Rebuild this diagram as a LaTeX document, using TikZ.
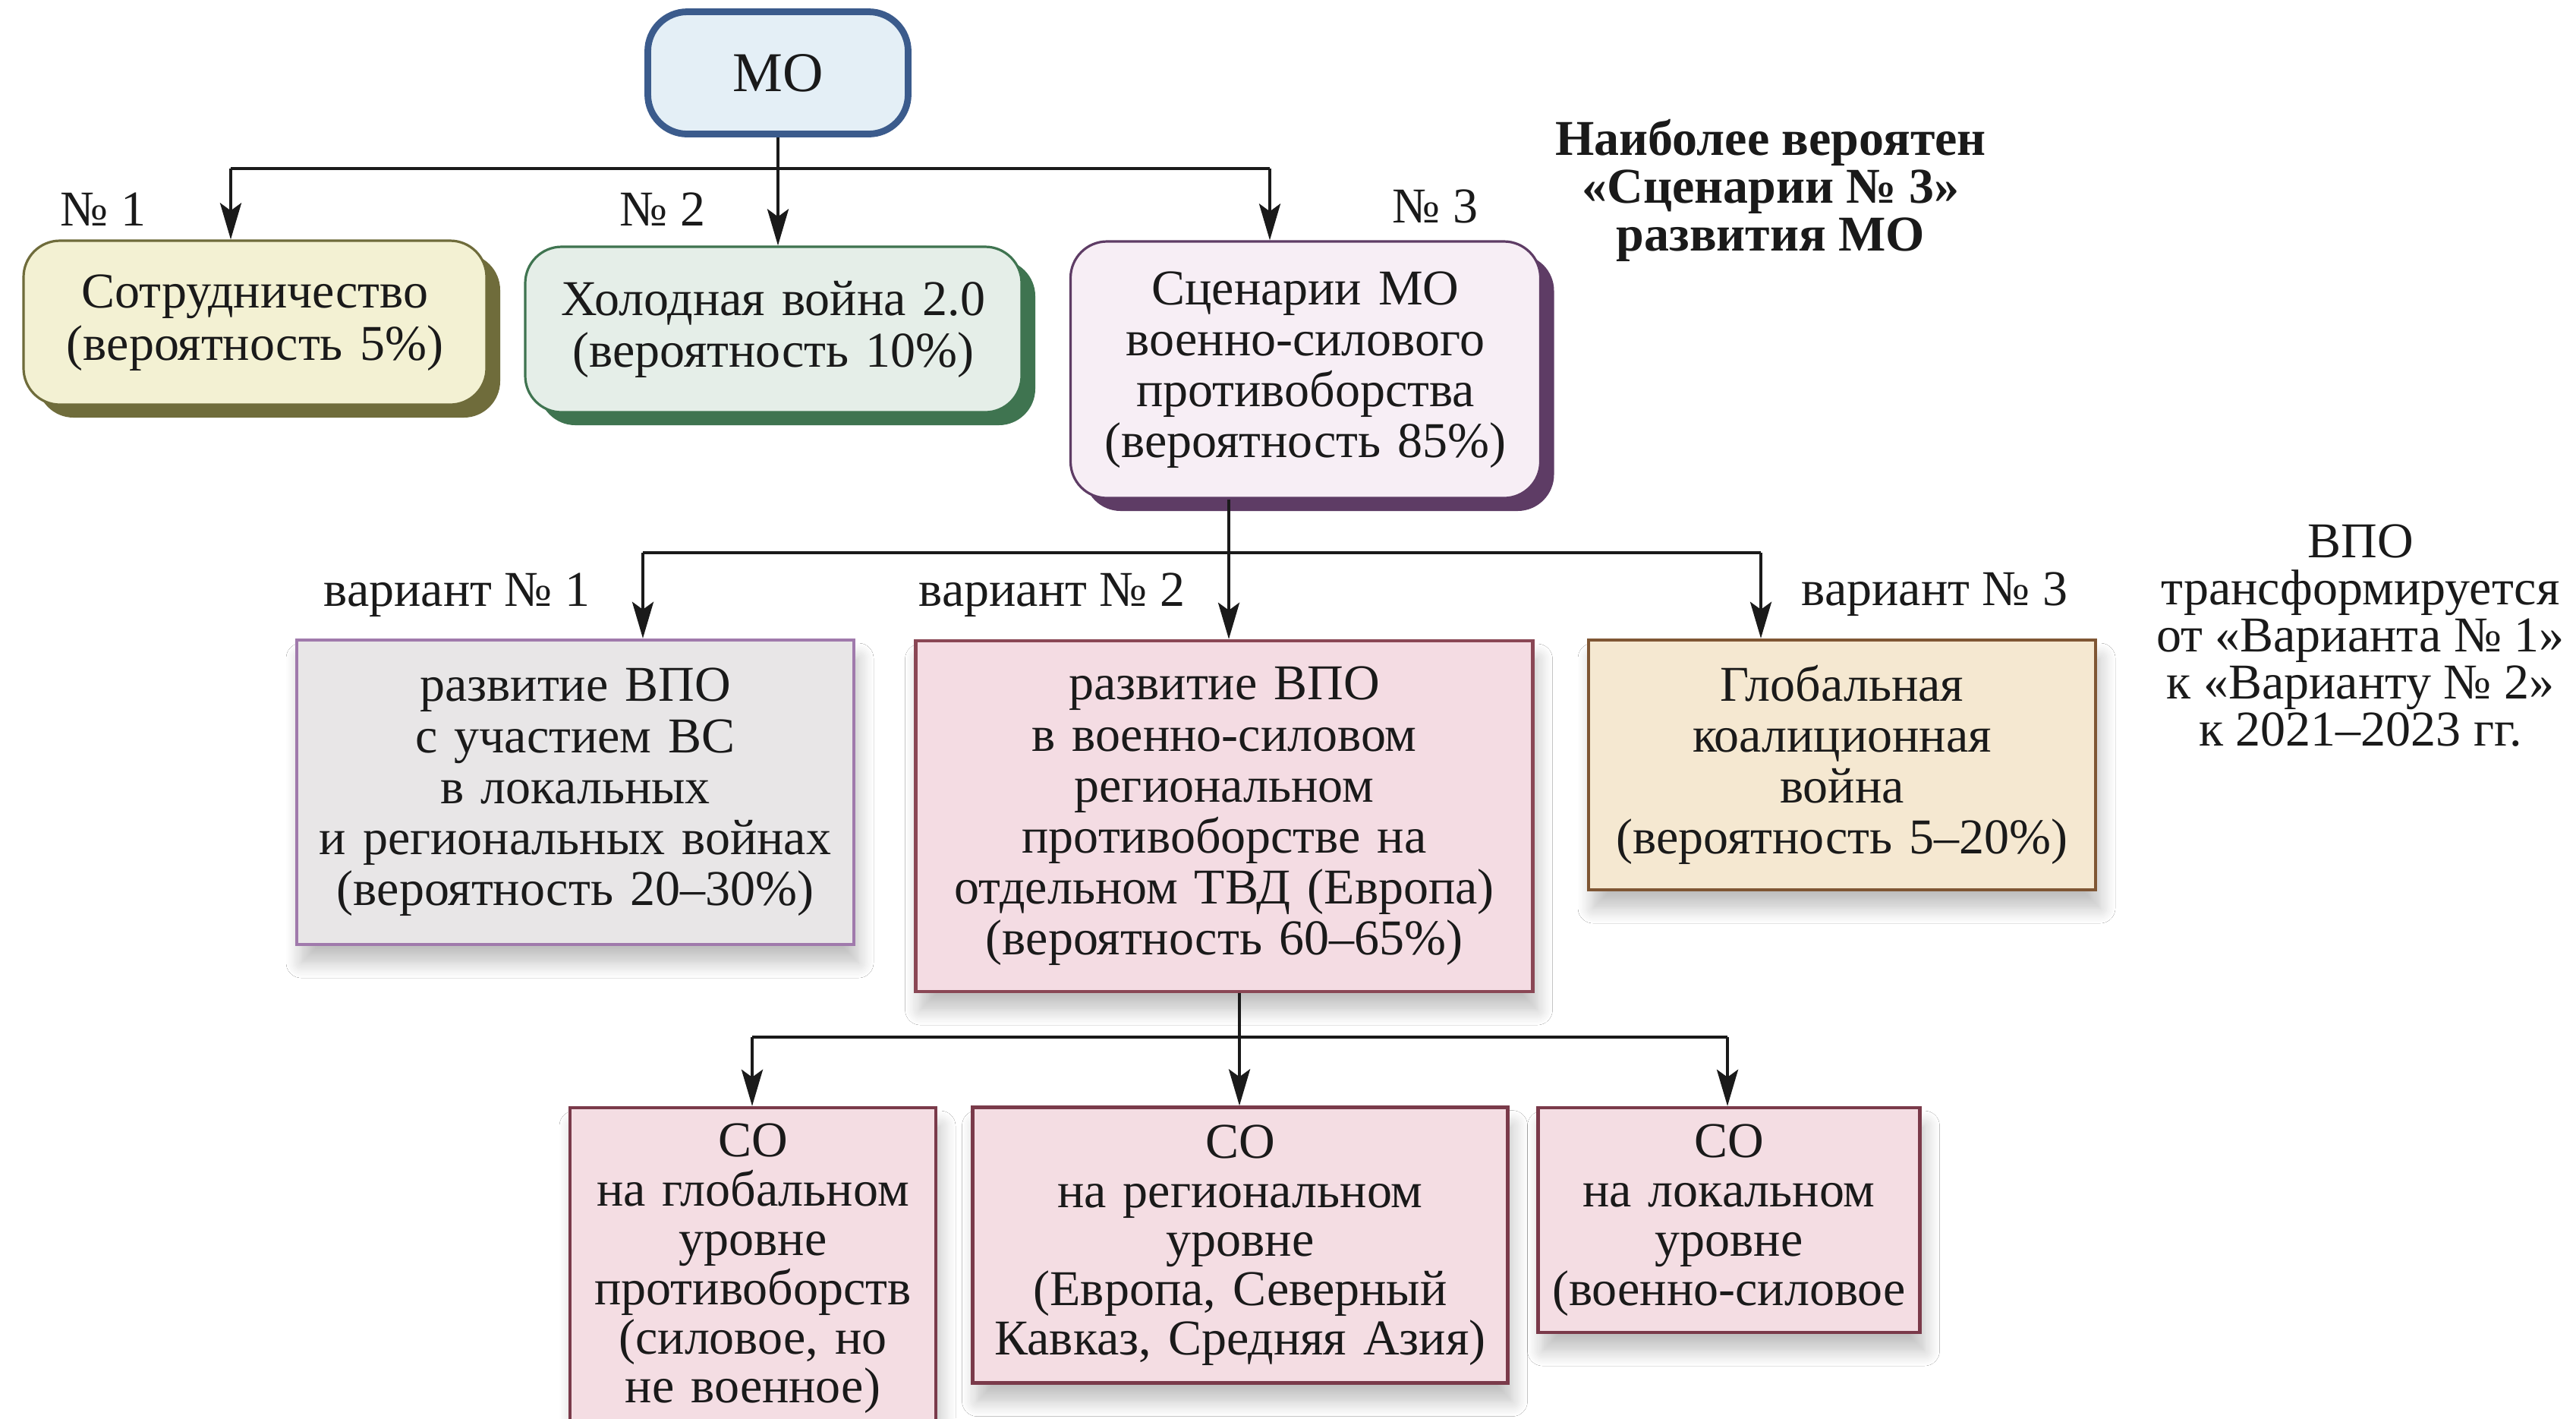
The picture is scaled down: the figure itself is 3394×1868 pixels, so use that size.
\documentclass[tikz,border=0pt]{standalone}
\usepackage{fontspec}
\setmainfont{Liberation Serif}
\usetikzlibrary{arrows.meta,shadows,shadows.blur}
\definecolor{mofill}{HTML}{E4EFF6}
\definecolor{modark}{HTML}{3B5B8C}
\definecolor{oafill}{HTML}{F3F1D3}
\definecolor{oadark}{HTML}{6F6C3B}
\definecolor{grfill}{HTML}{E5EEE8}
\definecolor{grdark}{HTML}{3F7450}
\definecolor{pufill}{HTML}{F7EEF5}
\definecolor{pudark}{HTML}{5E3C65}
\definecolor{vafill}{HTML}{E8E6E7}
\definecolor{vadark}{HTML}{A07AAC}
\definecolor{vbfill}{HTML}{F4DCE3}
\definecolor{vbdark}{HTML}{8A4755}
\definecolor{vcfill}{HTML}{F5E8D1}
\definecolor{vcdark}{HTML}{7F5634}
\definecolor{cofill}{HTML}{F4DDE3}
\definecolor{codark}{HTML}{7A3A4A}
\definecolor{ink}{HTML}{1A1A1A}
\begin{document}
\begin{tikzpicture}[x=0.25pt,y=-0.25pt,
  txt/.style={font=\fontsize{16.5}{16.8}\selectfont, align=center, inner sep=0pt, text=ink},
  conn/.style={line width=1.1pt, draw=ink},
  arr/.style={conn, -{Stealth[length=12pt,width=7pt,inset=2.5pt]}},
  rbox/.style n args={2}{rectangle, rounded corners=12pt, draw=#1, line width=0.8pt, fill=#2,
     general shadow={fill=#1, shadow xshift=4.5pt, shadow yshift=-4.25pt}, txt},
  sbox/.style n args={2}{rectangle, draw=#1, line width=1.1pt, fill=#2,
     blur shadow={shadow xshift=1.5pt, shadow yshift=-6pt, shadow blur radius=5pt, shadow blur steps=10, shadow opacity=25}, txt},
  lbl/.style={txt}
]
\useasboundingbox (0,0) rectangle (3394,1868);
\clip (0,0) rectangle (3394,1868);
\fill[white] (0,0) rectangle (3394,1868);

% top node
\node[rectangle, rounded corners=13pt, draw=modark, line width=2.2pt, fill=mofill,
      minimum width=85.75pt, minimum height=40.25pt, inner sep=0pt,
      font=\fontsize{18.5}{18}\selectfont, text=ink] (MO) at (1025,96) {МО};

% level 1
\node[rbox={oadark}{oafill}, minimum width=152.5pt, minimum height=54pt, text width=148pt,
      font=\fontsize{16.5}{17.2}\selectfont] (B1) at (336,425)
  {Сотрудничество\\(вероятность 5\%)};
\node[rbox={grdark}{grfill}, minimum width=163.5pt, minimum height=54.5pt, text width=158pt,
      font=\fontsize{16.5}{17.2}\selectfont] (B2) at (1019,434)
  {Холодная война 2.0\\(вероятность 10\%)};
\node[rbox={pudark}{pufill}, minimum width=154.75pt, minimum height=84.5pt, text width=150pt] (B3) at (1720,487)
  {Сценарии МО\\военно-силового\\противоборства\\(вероятность 85\%)};

\node[lbl] (n1) at (136,276) {№ 1};
\node[lbl] (n2) at (873,276) {№ 2};
\node[lbl] (n3) at (1891,272) {№ 3};

\node[txt, font=\bfseries\fontsize{16.5}{15.8}\selectfont] (note1) at (2333,251)
  {Наиболее вероятен\\«Сценарии № 3»\\развития МО};

% level 2
\node[sbox={vadark}{vafill}, minimum width=183.5pt, minimum height=100.25pt, text width=178pt] (V1) at (758,1043.5)
  {развитие ВПО\\с участием ВС\\в локальных\\и региональных войнах\\(вероятность 20–30\%)};
\node[sbox={vbdark}{vbfill}, minimum width=203.25pt, minimum height=115.5pt, text width=198pt] (V2) at (1613,1075)
  {развитие ВПО\\в военно-силовом\\региональном\\противоборстве на\\отдельном ТВД (Европа)\\(вероятность 60–65\%)};
\node[sbox={vcdark}{vcfill}, minimum width=167pt, minimum height=82.25pt, text width=162pt] (V3) at (2427,1007.5)
  {Глобальная\\коалиционная\\война\\(вероятность 5–20\%)};

\node[lbl] (v1) at (602,784) {вариант № 1};
\node[lbl] (v2) at (1386,784) {вариант № 2};
\node[lbl] (v3) at (2549,783) {вариант № 3};

\node[txt, font=\fontsize{16.5}{15.5}\selectfont] (note2) at (3110,837)
  {ВПО\\трансформируется\\от «Варианта № 1»\\к «Варианту № 2»\\к 2021–2023 гг.};

% level 3
\node[sbox={codark}{cofill}, minimum width=120.5pt, minimum height=106pt, text width=118pt,
      font=\fontsize{16.5}{16.2}\selectfont] (C1) at (992,1671)
  {СО\\на глобальном\\уровне\\противоборств\\(силовое, но\\не военное)};
\node[sbox={codark}{cofill}, minimum width=176.25pt, minimum height=90.75pt, text width=172pt,
      font=\fontsize{16.5}{16.2}\selectfont] (C2) at (1634,1640)
  {СО\\на региональном\\уровне\\(Европа, Северный\\Кавказ, Средняя Азия)};
\node[sbox={codark}{cofill}, minimum width=125.75pt, minimum height=74pt, text width=124pt,
      font=\fontsize{16.5}{16.2}\selectfont] (C3) at (2278,1607)
  {СО\\на локальном\\уровне\\(военно-силовое};

% connectors level 1
\coordinate (a1) at (304,222);
\coordinate (a2) at (1025,222);
\coordinate (a3) at (1673,222);
\draw[conn] (a1) -- (a3);
\draw[arr] (MO.south) -- (MO.south |- B2.north);
\draw[arr] (a1) -- (a1 |- B1.north);
\draw[arr] (a3) -- (a3 |- B3.north);

% connectors level 2
\coordinate (b1) at (847,728);
\coordinate (b2) at (1619,728);
\coordinate (b3) at (2320,728);
\draw[conn] (b1) -- (b3);
\draw[conn] (b2 |- B3.south) -- (b2);
\draw[arr] (b1) -- (b1 |- V1.north);
\draw[arr] (b2) -- (b2 |- V2.north);
\draw[arr] (b3) -- (b3 |- V3.north);

% connectors level 3
\coordinate (c1) at (991,1366);
\coordinate (c2) at (1633,1366);
\coordinate (c3) at (2276,1366);
\draw[conn] (c1) -- (c3);
\draw[conn] (c2 |- V2.south) -- (c2);
\draw[arr] (c1) -- (c1 |- C1.north);
\draw[arr] (c2) -- (c2 |- C2.north);
\draw[arr] (c3) -- (c3 |- C3.north);
\end{tikzpicture}
\end{document}
